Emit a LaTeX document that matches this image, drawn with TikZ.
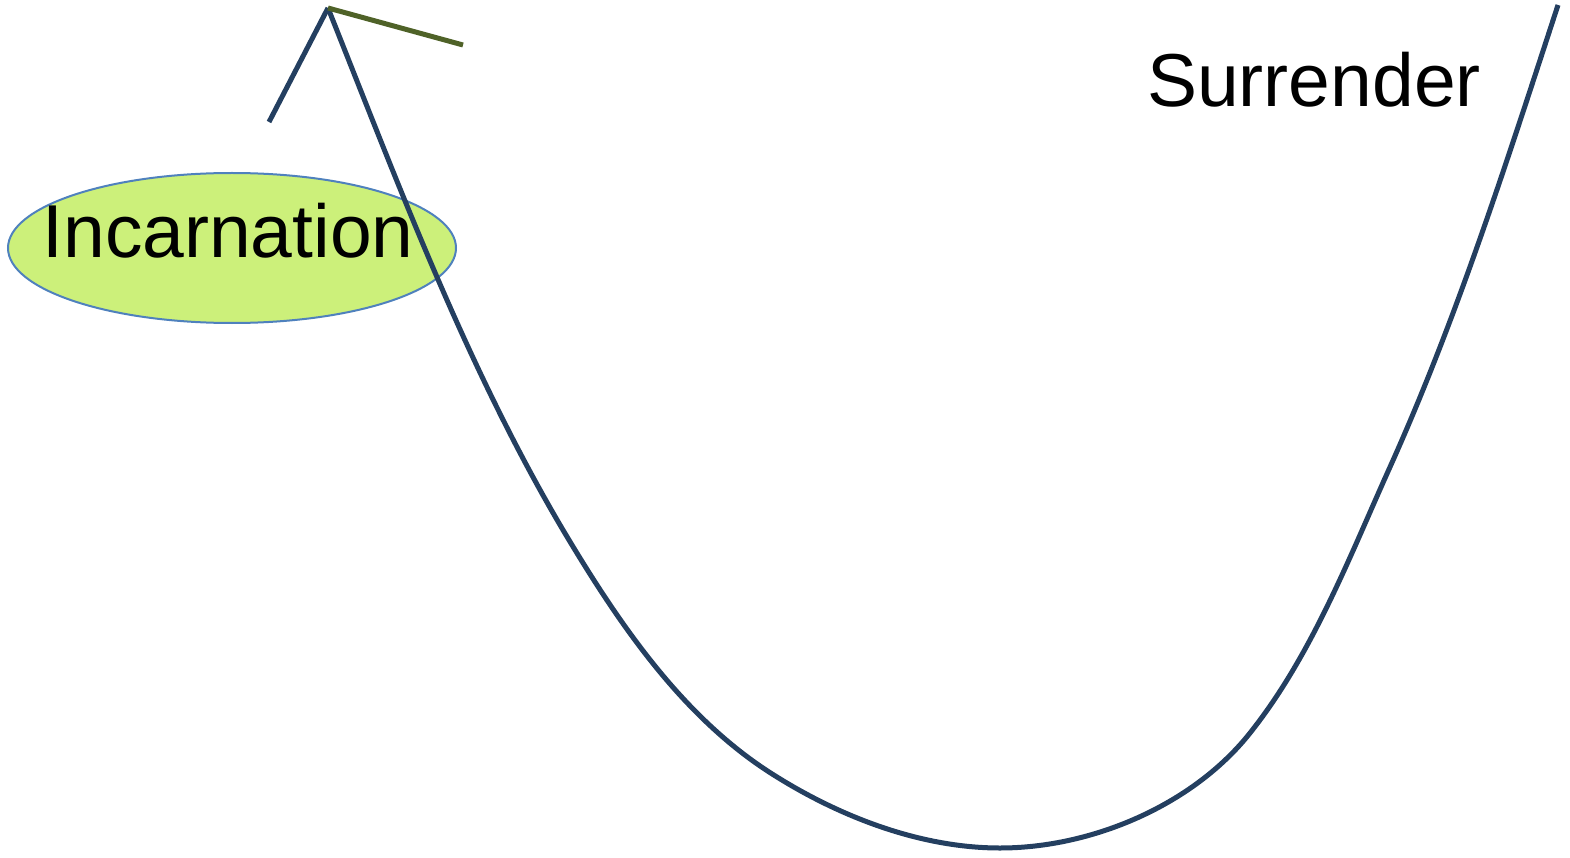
\documentclass[tikz,border=0pt]{standalone}
\usepackage{fontspec}
\setmainfont{Liberation Sans}
\usetikzlibrary{shapes.geometric}
\definecolor{navy}{HTML}{243F60}
\definecolor{olive}{HTML}{4F6228}
\definecolor{lime}{HTML}{CCF07A}
\definecolor{rim}{HTML}{4F81BD}
\tikzset{
  curveline/.style={draw=navy, line width=5pt},
  greenline/.style={draw=olive, line width=5pt},
  bigtext/.style={font=\fontsize{75}{90}\selectfont, inner sep=0pt},
  blob/.style={ellipse, fill=lime, draw=rim, line width=2pt, minimum width=448pt, minimum height=150pt, inner sep=0pt}
}
\begin{document}
\begin{tikzpicture}[x=1pt, y=-1pt]
\useasboundingbox (0,0) rectangle (1570,858);
\node[blob] (ell) at (232,248) {};
\node[bigtext, anchor=base] (inc) at (228,258) {Incarnation};
\node[bigtext, anchor=base] (sur) at (1314,107) {Surrender};
\coordinate (apex) at (328,8);
\coordinate (lend) at (269,122);
\coordinate (gend) at (463,45);
\coordinate (b) at (563,530);
\coordinate (c) at (777,777);
\coordinate (bottom) at (1000,848);
\coordinate (e) at (1250,733);
\coordinate (f) at (1390,467);
\coordinate (top) at (1558,5);
\draw[curveline] (lend) -- (apex);
\draw[curveline, line join=round]
 (apex) .. controls (399,186) and (466,366) .. (b)
        .. controls (619,624) and (684,720) .. (c)
        .. controls (843,818) and (922,848) .. (bottom)
        .. controls (1092,848) and (1193,805) .. (e)
        .. controls (1312,655) and (1349,558) .. (f)
        .. controls (1457,318) and (1507,161) .. (top);
\draw[greenline] (apex) -- (gend);
\end{tikzpicture}
\end{document}
